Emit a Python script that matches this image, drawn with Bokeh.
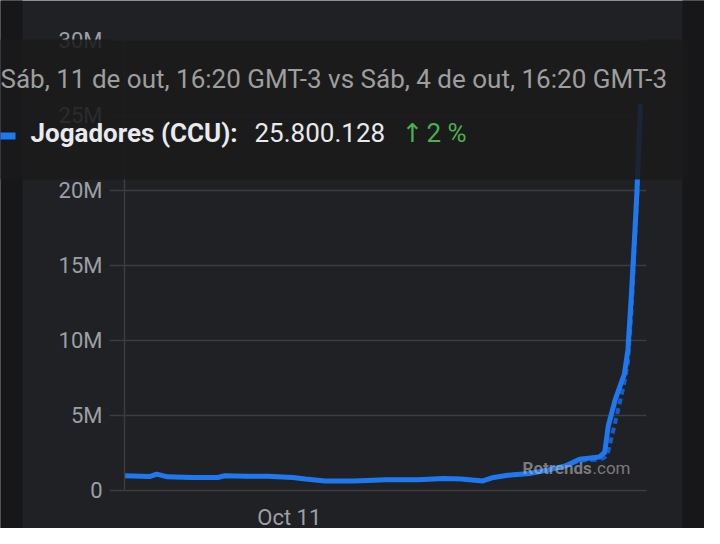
import pandas as pd
from bokeh.plotting import figure
from bokeh.models import (ColumnDataSource, FixedTicker, DatetimeTickFormatter,
                          BoxAnnotation, Label, Range1d, Node)
from bokeh.embed import file_html
from bokeh.resources import INLINE

# ---- data ----
times = ["2025-10-10 16:20", "2025-10-10 17:30", "2025-10-10 17:50", "2025-10-10 18:20",
         "2025-10-10 19:30", "2025-10-10 20:40", "2025-10-10 21:00", "2025-10-10 22:00",
         "2025-10-10 23:00", "2025-10-11 00:10", "2025-10-11 00:45", "2025-10-11 01:40",
         "2025-10-11 03:00", "2025-10-11 04:30", "2025-10-11 06:00", "2025-10-11 07:10",
         "2025-10-11 08:00", "2025-10-11 09:00", "2025-10-11 09:30", "2025-10-11 10:10",
         "2025-10-11 11:10", "2025-10-11 12:00", "2025-10-11 12:50", "2025-10-11 13:30",
         "2025-10-11 14:25", "2025-10-11 14:40", "2025-10-11 14:50", "2025-10-11 15:10",
         "2025-10-11 15:35", "2025-10-11 15:45", "2025-10-11 15:55", "2025-10-11 16:05",
         "2025-10-11 16:10", "2025-10-11 16:20"]
ccu_millions = [0.98, 0.93, 1.09, 0.91, 0.87, 0.87, 0.98, 0.95, 0.95, 0.87, 0.76, 0.64,
                0.64, 0.71, 0.71, 0.80, 0.76, 0.64, 0.87, 1.02, 1.13, 1.36, 1.64, 2.09,
                2.24, 2.53, 4.3, 6.1, 7.76, 9.4, 13.2, 17.6, 19.9, 25.8]
prev_ccu_millions = [0.98, 0.93, 1.09, 0.91, 0.87, 0.87, 0.98, 0.95, 0.95, 0.87, 0.76, 0.64,
                     0.64, 0.71, 0.71, 0.80, 0.76, 0.64, 0.87, 1.02, 1.13, 1.36, 1.64, 2.0,
                     2.05, 2.2, 2.6, 4.6, 7.2, 8.6, 12.0, 16.8, 19.2, 25.29]
y_ticks = [0, 5_000_000, 10_000_000, 15_000_000, 20_000_000, 25_000_000, 30_000_000]
y_tick_labels = ["0", "5M", "10M", "15M", "20M", "25M", "30M"]
x_tick = "2025-10-11 00:00"
grid_end = "2025-10-11 16:37"
header_text = "Sáb, 11 de out, 16:20 GMT-3 vs Sáb, 4 de out, 16:20 GMT-3"
series_name = "Jogadores (CCU):"
current_value_text = "25.800.128"
change_arrow = "↑"
change_text = "2 %"

# ---- styles / layout (page pixels) ----
PANEL = "#202124"
STRIP = "#17171a"
GRID = "#3c3d40"
LABEL = "#9aa0a6"
BLUE = "#1e78f0"
GREEN = "#4caf50"
FONT = "Roboto"
W, H = 704, 528            # canvas, drawn at page (8, 8)
AX_X, ZERO_Y = 132, 498    # page x of the y axis, page y of value 0
PX_PER_HOUR = 21.5
PX_PER_MILLION = 15.0

ms = lambda s: pd.Timestamp(s).value // 10**6
t = pd.to_datetime(times)
t0 = pd.Timestamp(times[0])
src = ColumnDataSource(dict(t=t, v=[v * 1e6 for v in ccu_millions]))
prev_src = ColumnDataSource(dict(t=t, v=[v * 1e6 for v in prev_ccu_millions]))

x_range = Range1d(t0 - pd.Timedelta(hours=(AX_X - 8) / PX_PER_HOUR),
                  t0 + pd.Timedelta(hours=(8 + W - AX_X) / PX_PER_HOUR))
y_range = Range1d(-(8 + H - ZERO_Y) / PX_PER_MILLION * 1e6, (ZERO_Y - 8) / PX_PER_MILLION * 1e6)

p = figure(width=W, height=H, x_axis_type="datetime", x_range=x_range, y_range=y_range,
           output_backend="svg", toolbar_location=None, min_border=0)
p.background_fill_color = PANEL
p.border_fill_color = PANEL
p.outline_line_color = None

# y axis, drawn at the start of the data
ya = p.yaxis[0]
ya.fixed_location = ms(times[0])
ya.bounds = (y_ticks[0], y_ticks[-1])
ya.ticker = FixedTicker(ticks=y_ticks)
ya.major_label_overrides = dict(zip(y_ticks, y_tick_labels))
ya.axis_line_color = GRID
ya.axis_line_width = 1.5
ya.major_tick_out = 15
ya.major_tick_in = 0
ya.major_tick_line_color = GRID
ya.major_tick_line_width = 1.5
ya.minor_tick_line_color = None
ya.major_label_standoff = 7
ya.major_label_text_font = FONT
ya.major_label_text_font_size = "22px"
ya.major_label_text_color = LABEL

# x axis, at value 0
xa = p.xaxis[0]
xa.fixed_location = 0
xa.ticker = FixedTicker(ticks=[ms(x_tick)])
fmt = "%b %d"
xa.formatter = DatetimeTickFormatter(microseconds=fmt, milliseconds=fmt, seconds=fmt, minsec=fmt,
                                     minutes=fmt, hourmin=fmt, hours=fmt, days=fmt,
                                     months=fmt, years=fmt, context=None)
xa.axis_line_color = None
xa.major_tick_line_color = None
xa.minor_tick_line_color = None
xa.major_label_standoff = 8
xa.major_label_text_font = FONT
xa.major_label_text_font_size = "22px"
xa.major_label_text_color = LABEL

p.xgrid.grid_line_color = None
p.ygrid.grid_line_color = GRID
p.ygrid.grid_line_width = 1.5
p.ygrid.cross_bounds = (ms(times[0]), ms(grid_end))


def box(l, r, top, bottom, color, alpha=1.0, radius=0, level="annotation"):
    """Rectangle in page pixels."""
    p.add_layout(BoxAnnotation(
        left=Node(target="canvas", symbol="left", offset=l - 8),
        right=Node(target="canvas", symbol="left", offset=r - 8),
        top=Node(target="canvas", symbol="top", offset=top - 8),
        bottom=Node(target="canvas", symbol="top", offset=bottom - 8),
        fill_color=color, fill_alpha=alpha, line_color=None,
        border_radius=radius, level=level))


# page side strips
box(0, 30, 0, 544, STRIP, level="underlay")
box(690, 720, 0, 544, STRIP, level="underlay")

# lines
p.line("t", "v", source=prev_src, line_color="#1a5cc4", line_width=4, line_dash="6 4")
p.line("t", "v", source=src, line_color=BLUE, line_width=5, line_join="round")

# watermark
p.add_layout(Label(x=522, y=51, x_units="screen", y_units="screen", text="Rotrends",
                   text_font=FONT, text_font_style="bold", text_font_size="17px",
                   text_color="#b8b8b8", text_alpha=0.6))
p.add_layout(Label(x=592, y=51, x_units="screen", y_units="screen", text=".com",
                   text_font=FONT, text_font_size="17px",
                   text_color="#b8b8b8", text_alpha=0.6))

# tooltip
box(0, 696, 47, 187, "#1a1a1b", 0.88, 8, level="overlay")
box(0, 23, 140, 147, BLUE, level="overlay")


def text(x, baseline, s, color, style="normal", font=FONT):
    p.add_layout(Label(x=x - 8, y=(8 + H - baseline) + 10, x_units="screen", y_units="screen",
                       text=s, text_font=font, text_font_size="26px", text_font_style=style,
                       text_color=color, text_baseline="alphabetic", level="overlay"))


text(8, 96, header_text, "#9e9e9e")
text(38, 150, series_name, "#e8eaed", "bold")
text(262, 150, current_value_text, "#e8eaed")
text(409, 150, change_arrow, GREEN, font="DejaVu Sans")
text(434, 150, change_text, GREEN)

open("out.html", "w").write(file_html(p, INLINE))
